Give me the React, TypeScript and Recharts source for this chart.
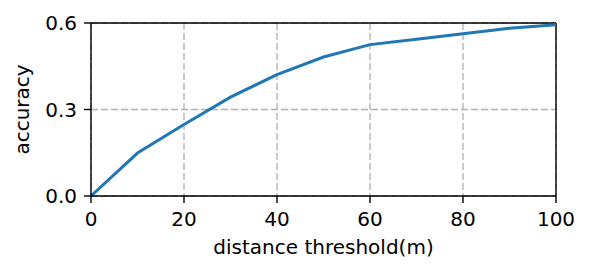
import React from "react";
import {
  LineChart,
  Line,
  XAxis,
  YAxis,
  CartesianGrid,
  ReferenceLine,
} from "recharts";

const thresholds = [0, 10, 20, 30, 40, 50, 60, 70, 80, 90, 100];
const accuracy = [0, 0.149, 0.248, 0.343, 0.421, 0.482, 0.525, 0.544, 0.563, 0.582, 0.594];
const xTicks = [0, 20, 40, 60, 80, 100];
const yTicks = [0, 0.3, 0.6];

const data = thresholds.map((t, i) => ({ threshold: t, accuracy: accuracy[i] }));

const font = "'DejaVu Sans', sans-serif";
const tickStyle = { fill: "#000", fontSize: 20, fontFamily: font };

function YLabel(props: any) {
  const vb = props.viewBox || {};
  const cx = 29;
  const cy = vb.y + vb.height / 2;
  return (
    <text
      x={cx}
      y={cy}
      transform={`rotate(-90, ${cx}, ${cy})`}
      textAnchor="middle"
      fill="#000"
      fontSize={20}
      fontFamily={font}
    >
      accuracy
    </text>
  );
}

export default function App() {
  return (
    <div style={{ position: "absolute", left: 0, top: 0, background: "#fff" }}>
      <LineChart
        width={592}
        height={275}
        data={data}
        margin={{ top: 23, right: 36, bottom: 0, left: 0 }}
      >
        <CartesianGrid stroke="#b0b0b0" strokeDasharray="7 3" strokeWidth={1.3} />
        <XAxis
          dataKey="threshold"
          type="number"
          domain={[0, 100]}
          ticks={xTicks}
          height={79}
          tick={tickStyle}
          tickSize={7}
          tickMargin={9}
          stroke="#000"
          strokeWidth={1.4}
          tickLine={{ stroke: "#000", strokeWidth: 1.4 }}
          label={{
            value: "distance threshold(m)",
            position: "insideBottom",
            offset: 21,
            fill: "#000",
            fontSize: 20,
            fontFamily: font,
          }}
        />
        <YAxis
          type="number"
          domain={[0, 0.6]}
          ticks={yTicks}
          width={91}
          tick={tickStyle}
          tickFormatter={(v: number) => v.toFixed(1)}
          tickSize={7}
          tickMargin={7}
          stroke="#000"
          strokeWidth={1.4}
          tickLine={{ stroke: "#000", strokeWidth: 1.4 }}
          label={<YLabel />}
        />
        <ReferenceLine y={0.6} stroke="#000" strokeWidth={1.4} />
        <ReferenceLine x={100} stroke="#000" strokeWidth={1.4} />
        <Line
          type="linear"
          dataKey="accuracy"
          stroke="#1f77b4"
          strokeWidth={3}
          dot={false}
          isAnimationActive={false}
        />
      </LineChart>
    </div>
  );
}
